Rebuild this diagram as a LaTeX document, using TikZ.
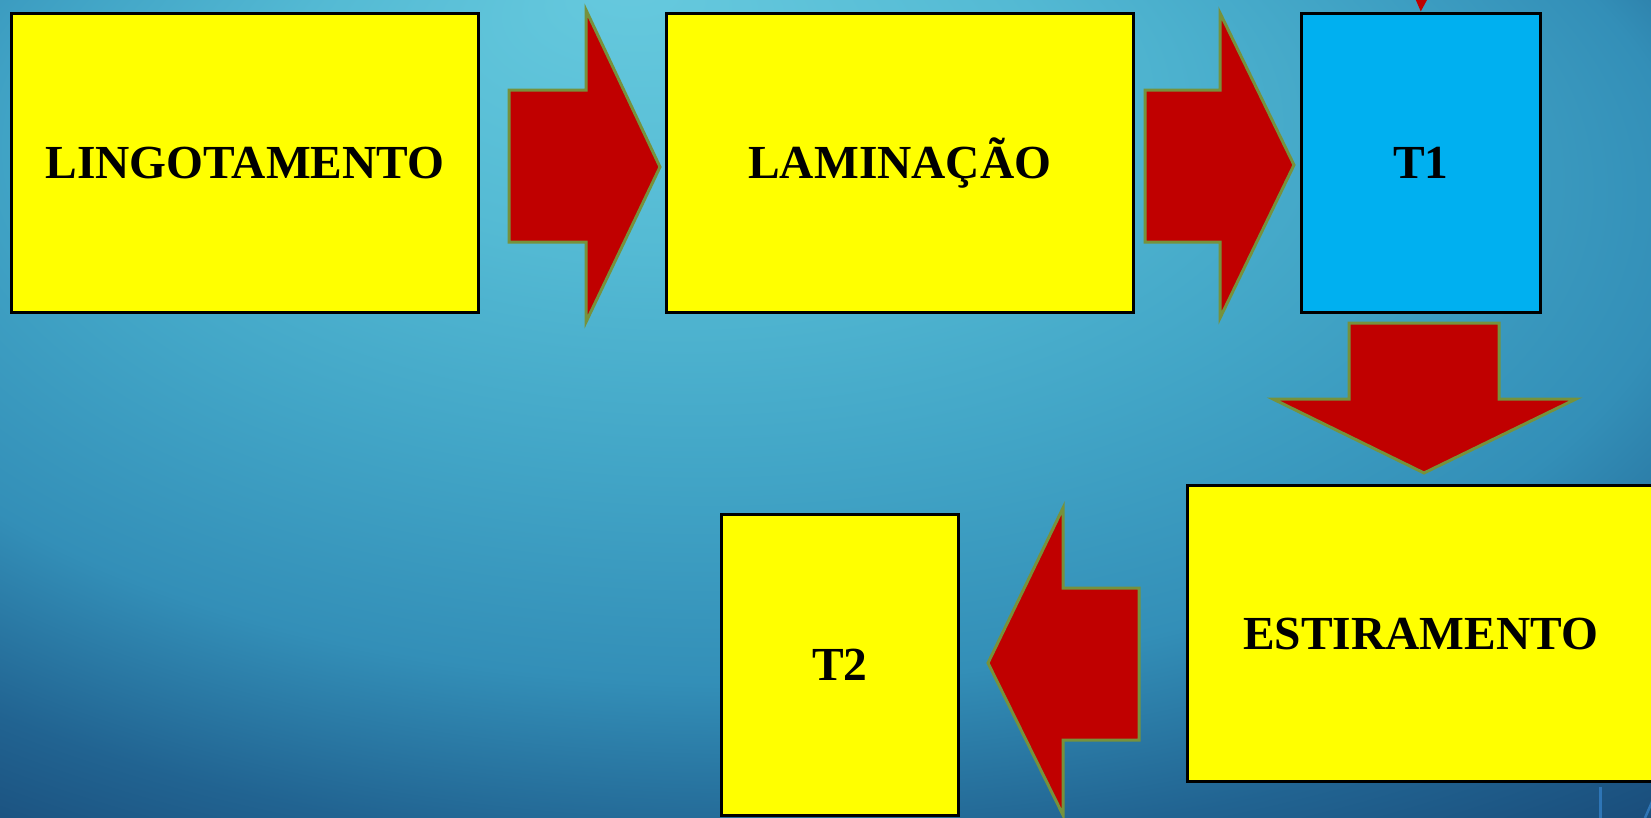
\documentclass[tikz,border=0pt]{standalone}
\usepackage{fontspec}
\setmainfont{Liberation Serif}
\usepackage{tikz}
\usetikzlibrary{arrows.meta,positioning}
\definecolor{amareloEtapa}{RGB}{255,255,0}
\definecolor{azulEtapa}{RGB}{0,176,240}
\definecolor{vermelhoSeta}{RGB}{192,0,0}
\definecolor{verdeBorda}{RGB}{118,146,60}
\definecolor{azulLinha}{RGB}{46,117,182}
\pgfdeclareradialshading{fundo}{\pgfpoint{-6bp}{26bp}}{%
  rgb(0bp)=(0.40,0.79,0.87); rgb(11bp)=(0.33,0.73,0.83);
  rgb(20bp)=(0.26,0.65,0.78); rgb(29bp)=(0.20,0.56,0.72);
  rgb(36bp)=(0.13,0.39,0.57); rgb(45bp)=(0.08,0.24,0.42);
  rgb(55bp)=(0.05,0.15,0.32)}
\tikzset{
  etapa/.style={rectangle, draw=black, line width=0.06cm, fill=amareloEtapa,
                minimum width=9.34cm, minimum height=6cm,
                align=center, font=\fontsize{27}{32}\selectfont\bfseries},
  etapaazul/.style={etapa, fill=azulEtapa},
  setabloco/.style={fill=vermelhoSeta, draw=verdeBorda, line width=0.06cm},
  setafina/.style={-{Triangle[length=0.24cm, width=0.22cm]}, vermelhoSeta, line width=0.04cm},
}

\begin{document}
\begin{tikzpicture}[x=0.02cm, y=-0.02cm]
  \useasboundingbox (0,0) rectangle (1651,818);
  \clip (0,0) rectangle (1651,818);
  % fundo: mancha clara em cima, escurecendo para baixo e a direita
  \shade[shading=fundo] (0,0) rectangle (1651,818);

  % etapas do processo
  \node[etapa] (lingot) at (245,163) {LINGOTAMENTO};
  \node[etapa, right=3.7cm of lingot] (lamin) {LAMINAÇÃO};
  \node[etapaazul, minimum width=4.78cm, right=3.3cm of lamin] (t1) {T1};
  \node[etapa, minimum height=5.92cm, below=3.4cm of t1] (estir) {ESTIRAMENTO};
  \node[etapa, minimum width=4.76cm, minimum height=6.04cm] (t2) at (840,665) {T2};

  % setas largas entre as etapas
  \draw[setabloco] (509,90) -- (586,90) -- (586,10) -- (660,167)
    -- (586,322) -- (586,242) -- (509,242) -- cycle;
  \draw[setabloco] (1145,90) -- (1220,90) -- (1220,13) -- (1294,165)
    -- (1220,318) -- (1220,242) -- (1145,242) -- cycle;
  \draw[setabloco] (1349,323) -- (1499,323) -- (1499,399) -- (1576,399)
    -- (1424,473) -- (1273,399) -- (1349,399) -- cycle;
  \draw[setabloco] (1139,588) -- (1063,588) -- (1063,508) -- (988,663)
    -- (1063,815) -- (1063,740) -- (1139,740) -- cycle;

  % seta vinda de cima
  \coordinate (acima) at (1424,-60);
  \draw[setafina] (acima) -- (t1.north);

  % detalhe do canto
  \draw[azulLinha, line width=0.06cm] (1600,787) -- (1600,818);
  \draw[azulLinha, line width=0.05cm] (1645,818) -- (1655,795);
\end{tikzpicture}
\end{document}
